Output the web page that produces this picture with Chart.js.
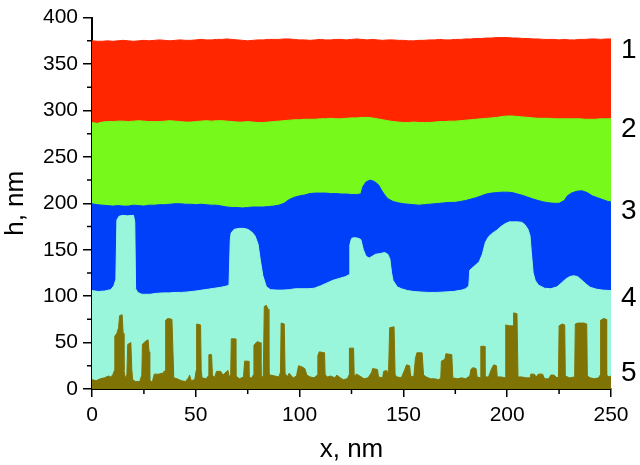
<!DOCTYPE html>
<html>
<head>
<meta charset="utf-8">
<script src="https://cdn.jsdelivr.net/npm/chart.js@4.4.1/dist/chart.umd.min.js"></script>
<style>
  html, body { margin: 0; padding: 0; background: #fff; }
  #wrap { width: 640px; height: 465px; }
</style>
</head>
<body>
<div id="wrap"><canvas id="profileChart" width="640" height="465"></canvas></div>
<script>
// profile layers, [x nm, h nm]
const layer1 = [[0,375],[2.5,374.5],[5,374.5],[7.5,375],[10,374.5],[12.5,375],[15,375.5],[17.5,375],[20,374.5],[22.5,375],[25,375.5],[27.5,375],[30,375.5],[32.5,376],[35,375.5],[37.5,375],[40,375.5],[42.5,376],[45,375.5],[47.5,375.5],[50,376],[52.5,376.5],[55,376],[57.5,376],[60,376.5],[62.5,376.5],[65,377],[67.5,376.5],[70,376],[72.5,375.5],[75,375],[77.5,375.5],[80,376],[82.5,376],[85,376.5],[87.5,376.5],[90,376.5],[92.5,377],[95,377],[97.5,376.5],[100,376],[102.5,376],[105,375.5],[107.5,376],[110,376.5],[112.5,376],[115,376],[117.5,376.5],[120,376.5],[122.5,376],[125,376.5],[127.5,377],[130,376.5],[132.5,376],[135,376.5],[137.5,376],[140,375.5],[142.5,376],[145,376],[147.5,375.5],[150,375.5],[152.5,375],[155,375],[157.5,375.5],[160,375.5],[162.5,376],[165,376],[167.5,376.5],[170,376],[172.5,376],[175,376.5],[177.5,376.5],[180,377],[182.5,377],[185,377.5],[187.5,377.5],[190,378],[192.5,378],[195,378.5],[197.5,378.5],[200,378.5],[202.5,378],[205,378],[207.5,377.5],[210,377.5],[212.5,377],[215,377],[217.5,376.5],[220,376.5],[222.5,376.5],[225,376],[227.5,376.5],[230,376],[232.5,376],[235,376.5],[237.5,376.5],[240,377],[242.5,377],[245,376.5],[247.5,377],[250,377]];

const layer2 = [[0,287],[2.5,286],[5,287.5],[7.5,288],[10,288],[12.5,288.5],[15,288.5],[17.5,288],[20,288.5],[22.5,289],[25,288.5],[27.5,288],[30,288],[32.5,288],[35,288.5],[37.5,289],[40,288.5],[42.5,288],[45,287.5],[47.5,287.5],[50,288],[52.5,288.5],[55,289],[57.5,288.5],[60,289],[62.5,289],[65,288.5],[67.5,288],[70,287.5],[72.5,287.5],[75,288],[77.5,287.5],[80,287],[82.5,287],[85,287.5],[87.5,288],[90,288.5],[92.5,289],[95,289.5],[97.5,290],[100,290],[102.5,290.5],[105,290.5],[107.5,290.5],[110,291],[112.5,291],[115,291.5],[117.5,291],[120,291],[122.5,291.5],[125,292],[127.5,292],[130,292.5],[132.5,292.5],[135,292],[137.5,291],[140,290],[142.5,289],[145,288],[147.5,287.5],[150,287],[152.5,287],[155,287.5],[157.5,287],[160,287],[162.5,287],[165,287.5],[167.5,288],[170,288],[172.5,288.5],[175,288.5],[177.5,289],[180,289.5],[182.5,290],[185,290.5],[187.5,291],[190,291.5],[192.5,292],[195,292.5],[197.5,293.5],[200,294],[202.5,294],[205,293.5],[207.5,293],[210,292.5],[212.5,292],[215,291.5],[217.5,291.5],[220,291.5],[222.5,291],[225,291],[227.5,291],[230,291],[232.5,291],[235,291],[237.5,290.5],[240,290.5],[242.5,290.5],[245,291],[247.5,291],[250,291]];

const layer3 = [[0,199.5],[2.5,198.5],[5,198],[7.5,197.5],[10,197],[12.5,197.5],[15,197],[17.5,197],[20,198],[22.5,197.5],[25,197],[27.5,198],[30,198],[32.5,198.5],[35,198.5],[37.5,199],[40,199.5],[42.5,199.5],[45,199],[47.5,199],[50,198.5],[52.5,199],[55,198.5],[57.5,198],[60,198],[62.5,197],[65,196],[67.5,195.5],[70,195.5],[72.5,195],[75,195.5],[77.5,196],[80,196],[82.5,196],[85,196.5],[87.5,197],[90,198],[92.5,200],[95,204],[97.5,206.5],[100,208],[102.5,209],[105,210.5],[107.5,211],[110,211],[112.5,211],[115,210.5],[117.5,210.5],[120,210],[122.5,210],[125,209.5],[127.5,209.5],[129.5,210],[130.5,218],[132,223],[134,225],[136,223.5],[138,220],[139.5,214],[141,209],[142.5,205],[145,202],[147.5,200.5],[150,199.5],[152.5,199],[155,198.5],[157.5,198],[160,198.5],[162.5,199],[165,199.5],[167.5,200],[170,200.5],[172.5,201],[175,201],[177.5,202],[180,203],[182.5,204.5],[185,206],[187.5,208],[190,210],[192.5,211],[195,211.5],[197.5,212],[200,212],[202.5,211.5],[205,210],[207.5,208.5],[210,206.5],[212.5,204.5],[215,203],[217.5,201.5],[220,200.5],[222.5,200],[225,200],[227.5,203],[229,208],[231,211],[233.5,213],[236,213.5],[238.5,211.5],[241,208],[243.5,206],[246,204],[248.5,202],[250,201.5]];

const layer4 = [[0,106],[3,105],[6,105.5],[9,107],[10.5,111],[11.5,118],[12,182],[13,186],[15,187],[17,186.5],[20,187],[20.6,180],[21,108],[22,104],[24,102],[26,102],[28,102],[31,103],[34,103.5],[37,103.5],[40,104],[43,104],[46,104.5],[50,105.5],[53,106.5],[56,107.5],[59,108.5],[62,109.5],[65,111],[66,112],[66.6,160],[67,168],[68.5,172],[71,173],[73,173],[75,172],[77,169],[78.5,165],[80,156],[81,140],[82.3,122],[84,110],[86,107],[89,106.5],[92,106.5],[95,107],[98,108],[101,108],[104,108],[107,108.5],[110,111],[113,114],[116,117],[119,119],[122,121],[123.8,123],[124.2,155],[125,162],[126,163],[128,162.5],[129.5,161],[130.7,150],[132,143],[133.5,141],[135,143],[136.5,145],[139,146],[141,147],[142.5,145],[143.5,140],[144.3,125],[145,117],[147,110],[149,108],[152,106],[155,105],[158,104.5],[162,104],[166,104],[170,104.5],[174,105],[178,106.5],[180,108],[181.5,111],[182,128],[183.5,131],[185,134],[186.5,137],[188,145],[189.5,158],[191,164],[193,168],[195,171],[197,175],[199,178],[201,180],[203,180],[205,180],[207,179.5],[208.5,177],[210,172],[211,165],[211.6,148],[212.5,125],[213.5,117],[215,112],[218,108.5],[221,108],[224,110],[226,114],[228,118],[230,121],[232,122],[234,121],[236,117],[238,113],[240,109.5],[243,107.5],[246,106.5],[250,106]];

const layer5 = [[0,10],[2,9],[4,11],[6,12],[8,14],[9,13],[10,15],[10.8,20],[11,57],[12,60],[12.8,66],[13.3,79],[14.5,80],[15,60],[15.4,20],[16,12],[16.8,15],[17.2,48],[18.7,50],[19.2,20],[19.6,10],[21,8],[23,8],[24,15],[24.3,48],[25.5,51],[27,53],[27.5,40],[27.8,10],[29,7],[30,16],[32,16],[34,17],[35.2,20],[35.5,74],[36.5,76],[38.5,75],[39,40],[39.4,12],[41,11],[43,9],[45,8],[46.5,12],[47,15],[47.8,9],[49.5,10],[50.2,20],[50.4,70],[52.3,69],[52.6,20],[53,12],[55,11],[56,14],[56.3,37],[57.6,37],[58,15],[59,12],[60,19],[62,19],[63,15],[64,17],[65.5,20],[66,14],[66.8,14],[67.1,54],[69,54],[69.3,14],[71,11],[73,13],[73.5,30],[75.3,30],[75.6,12],[77,12],[77.7,15],[78,47],[79.5,51],[81,50],[81.4,12],[82.5,14],[83,89],[84,90],[84.8,86],[85.2,16],[86,15],[88,14],[90,13],[90.8,18],[91.1,71],[92.6,70],[93,17],[94,13],[95,17],[96,14],[97,12],[98.5,14],[99.5,25],[101,24],[102.5,22],[103.5,15],[105,13],[107,12],[108.6,15],[108.8,36],[109.5,40],[112,39],[112.3,15],[113.5,13],[115,14],[116,13],[117,12],[118,15],[119,13],[121,10],[123,11],[123.8,15],[124,44],[126,44],[126.3,14],[127.5,16],[129,14],[131,11],[133,12],[134.7,18],[135.2,22],[137.5,21],[138,13],[140,12],[140.5,19],[142,20],[142.8,14],[143.4,66],[145.5,67],[146,15],[147,13],[149,12],[150.5,20],[151.5,26],[153,25],[153.5,14],[155,13],[155.8,33],[156.5,39],[159,39],[159.7,15],[161,13],[163,11],[165,11],[167,10],[168,12],[168.3,30],[170,32],[170.5,38],[173.3,37],[173.8,12],[176,11],[178,12],[180,11],[182,14],[182.5,21],[183.5,23],[185,22],[185.5,13],[187,12],[187.3,46],[189,46],[189.3,13],[191,13],[192.5,22],[193.5,26],[194.8,25],[195.2,13],[197,13],[199,12],[199.3,69],[201,68],[202.8,68],[203.1,82],[204.7,81],[205.2,13],[207,13],[209,12],[211,12],[211.3,16],[213,16],[214,13],[215,16],[217,16],[218,11],[220,11],[221,15],[222.5,15],[224,12],[224.7,13],[225,68],[226.5,70],[227.7,69],[228,14],[230,12],[232.5,13],[232.8,70],[234,71],[237,71],[238.3,70],[238.6,14],[240,12],[242,11],[244,12],[244.8,15],[245,74],[246.5,76],[247.6,75],[247.9,15],[249,13],[250,14]];

const layerNames = ['1', '2', '3', '4', '5'];
const xTicks = [0, 50, 100, 150, 200, 250];
const yTicks = [0, 50, 100, 150, 200, 250, 300, 350, 400];

const colors = ['#FF2600', '#77F91B', '#0040F8', '#99F6DB', '#807306'];
const FONT = 'Arial, "Liberation Sans", sans-serif';

function toXY(arr) {
  return arr.map(p => ({ x: p[0], y: p[1] }));
}

// later layers get a lower order, so they are drawn on top
const layers = [layer1, layer2, layer3, layer4, layer5];
const datasets = layers.map((l, i) => ({
  label: layerNames[i],
  data: toXY(l),
  borderColor: colors[i],
  backgroundColor: colors[i],
  borderWidth: 1,
  pointRadius: 0,
  tension: 0,
  fill: 'origin',
  order: layers.length - i
}));

// minor ticks + numbers at the right
const extras = {
  id: 'extras',
  afterDraw(chart) {
    const ctx = chart.ctx;
    const xs = chart.scales.x, ys = chart.scales.y;
    const left = chart.chartArea.left, bottom = chart.chartArea.bottom;
    ctx.save();
    ctx.strokeStyle = '#000';
    ctx.lineWidth = 1.5;
    ctx.beginPath();
    for (let v = 25; v < 400; v += 50) {
      const y = ys.getPixelForValue(v);
      ctx.moveTo(left - 5, y); ctx.lineTo(left, y);
    }
    for (let v = 25; v < 250; v += 50) {
      const x = xs.getPixelForValue(v);
      ctx.moveTo(x, bottom); ctx.lineTo(x, bottom + 5);
    }
    ctx.stroke();

    // layer numbers
    const labelH = [367, 282, 194, 100, 19];
    ctx.fillStyle = '#000';
    ctx.font = '28px ' + FONT;
    ctx.textAlign = 'left';
    ctx.textBaseline = 'alphabetic';
    layerNames.forEach((t, i) => {
      ctx.fillText(t, chart.chartArea.right + 10, ys.getPixelForValue(labelH[i]) + 10);
    });
    ctx.restore();
  }
};

new Chart(document.getElementById('profileChart').getContext('2d'), {
  type: 'line',
  data: { datasets },
  options: {
    responsive: false,
    animation: false,
    events: [],
    layout: { padding: { top: 10, right: 29, left: 0, bottom: 0 } },
    plugins: {
      legend: { display: false },
      tooltip: { enabled: false },
      filler: { propagate: false }
    },
    scales: {
      x: {
        type: 'linear',
        min: 0,
        max: 250,
        afterBuildTicks: s => { s.ticks = xTicks.map(v => ({ value: v })); },
        afterFit: s => { s.height = 76; },
        ticks: { color: '#000', font: { family: FONT, size: 21 }, padding: 6, maxRotation: 0 },
        grid: { drawOnChartArea: false, drawTicks: true, tickLength: 8, color: '#000', lineWidth: 1.5 },
        border: { display: true, color: '#000', width: 2 },
        title: { display: true, text: 'x, nm', color: '#000', font: { family: FONT, size: 26 }, padding: { top: 0, bottom: 0 } }
      },
      y: {
        min: 0,
        max: 400,
        afterBuildTicks: s => { s.ticks = yTicks.map(v => ({ value: v })); },
        afterFit: s => { s.width = 92; },
        ticks: { color: '#000', font: { family: FONT, size: 21 }, padding: 5 },
        grid: { drawOnChartArea: false, drawTicks: true, tickLength: 9, color: '#000', lineWidth: 1.5 },
        border: { display: true, color: '#000', width: 2 },
        title: { display: true, text: 'h, nm', color: '#000', font: { family: FONT, size: 26 }, padding: { top: 0, bottom: 0 } }
      }
    }
  },
  plugins: [extras]
});
</script>
</body>
</html>
